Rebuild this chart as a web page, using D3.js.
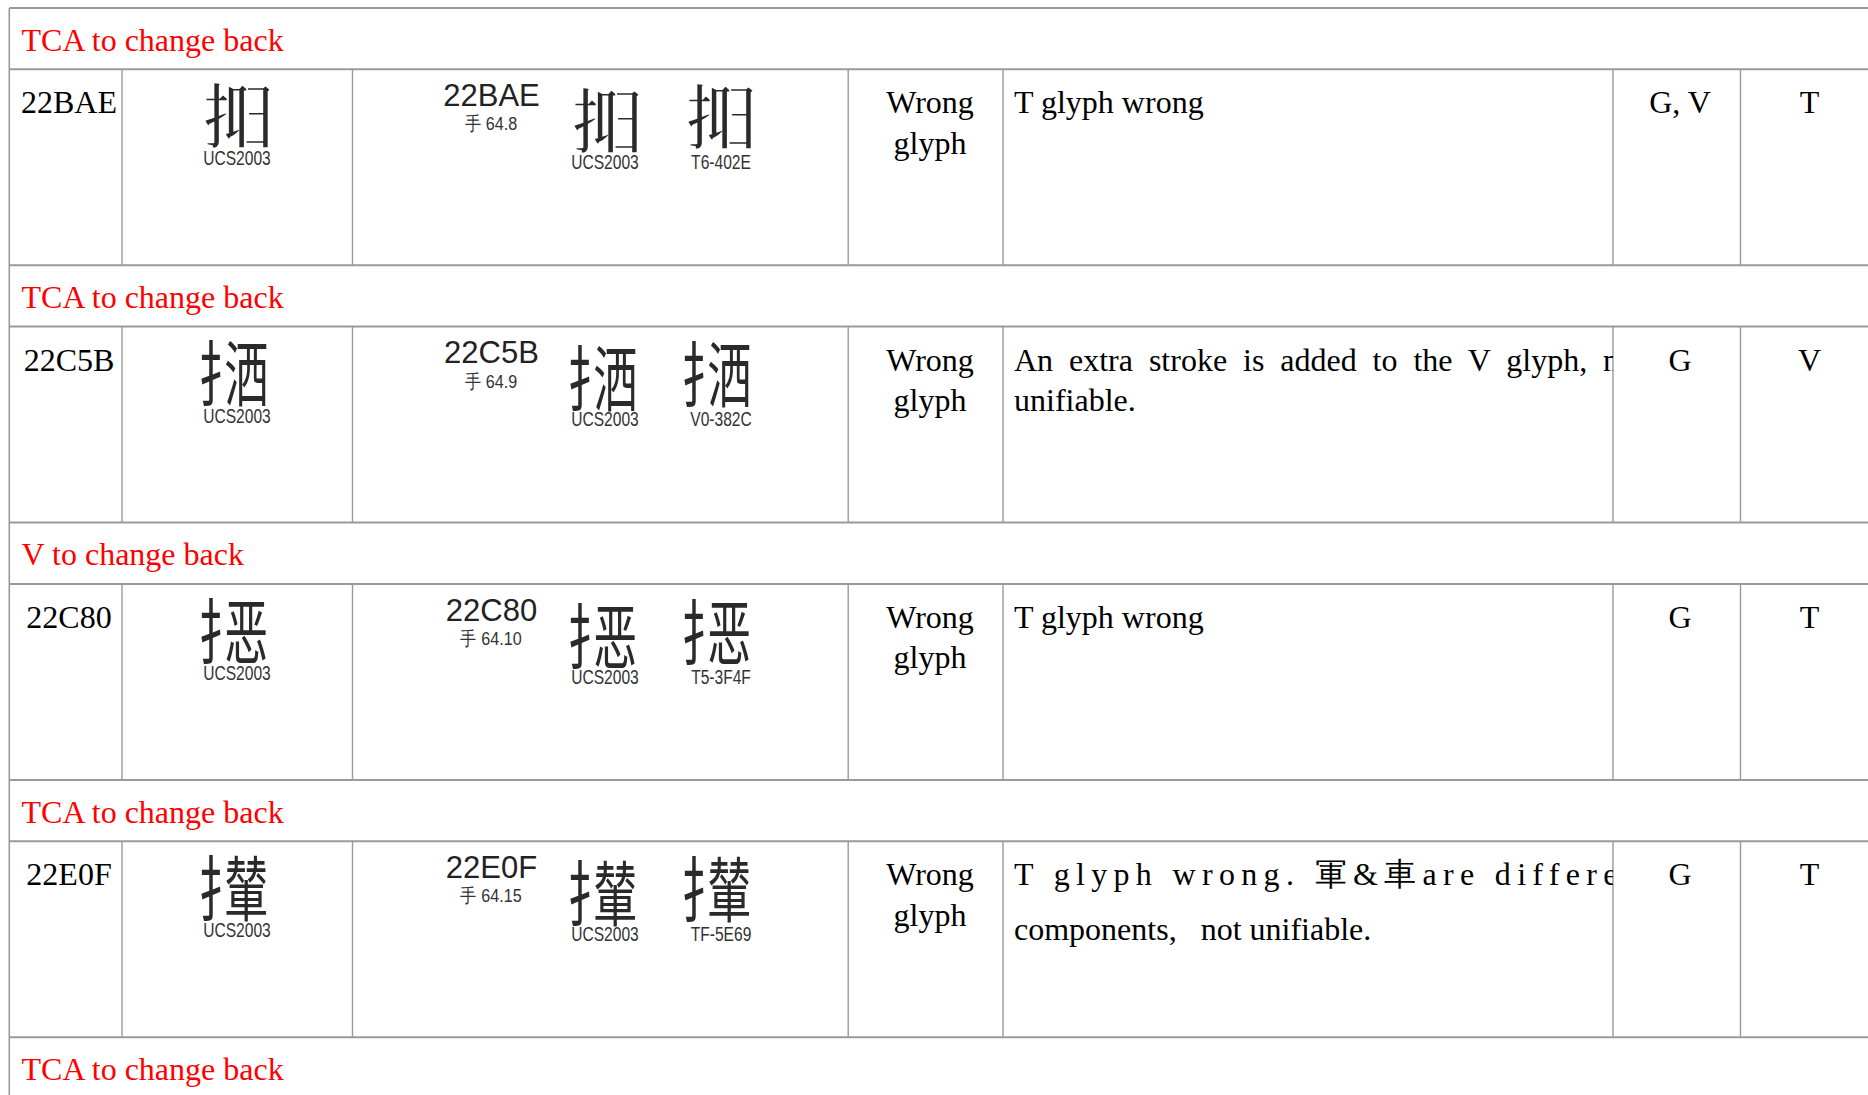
<!DOCTYPE html>
<html><head><meta charset="utf-8">
<script src="https://cdn.jsdelivr.net/npm/d3@7"></script>
<style>
html,body{margin:0;padding:0;background:#fff;overflow:hidden}
text{white-space:pre}
</style>
</head><body>
<svg id="chart"></svg>
<script>
// ---------- data ----------
const titles = ["TCA to change back", "TCA to change back", "V to change back", "TCA to change back", "TCA to change back"];
const codes = ["22BAE", "22C5B", "22C80", "22E0F"];
const codePoints = [0x22BAE, 0x22C5B, 0x22C80, 0x22E0F];
// ideographic components, used only when no installed font has the Ext-B character
const components = [["扌", "冋"], ["扌", "洒"], ["扌", "恶"], ["扌", "輦"]];
const radicalLabels = ["手 64.8", "手 64.9", "手 64.10", "手 64.15"];
const ucsLabel = "UCS2003";
const sourceLabels = ["T6-402E", "V0-382C", "T5-3F4F", "TF-5E69"];
const issueLines = [["Wrong", "glyph"], ["Wrong", "glyph"], ["Wrong", "glyph"], ["Wrong", "glyph"]];
const descriptions = [
  ["T glyph wrong"],
  ["An extra stroke is added to the V glyph, not", "unifiable."],
  ["T glyph wrong"],
  ["T glyph wrong. 軍&車are different", "components,   not unifiable."]
];
const fromSources = ["G, V", "G", "G", "G"];
const toSources = ["T", "V", "T", "T"];

// ---------- layout ----------
const W = 1868, H = 1095;
const blockH = 257.3, titleH = 61.3;
const serif = "'Liberation Serif','Times New Roman',serif";
const sans = "'Liberation Sans',Arial,sans-serif";
const cjk = "'Noto Sans CJK TC','Noto Sans CJK SC','Noto Sans CJK JP',sans-serif";
const glyphSize = 71;

const svg = d3.select("#chart").attr("width", W).attr("height", H)
  .style("display", "block").style("background", "#fff");

const yBlock = d3.scaleLinear().domain([0, 1]).range([8, 8 + blockH]);
const colX = d3.scaleOrdinal()
  .domain(["left", "ucs", "src", "issue", "desc", "from", "to", "end"])
  .range([9.3, 122, 352.5, 848.2, 1003, 1613, 1740.5, 1880]);
const dataTop = i => yBlock(i) + titleH;

// does an installed font draw this character? (compare with a surely-missing one)
function hasGlyph(ch) {
  const c = document.createElement("canvas"); c.width = 90; c.height = 90;
  const ctx = c.getContext("2d");
  const draw = s => {
    ctx.clearRect(0, 0, 90, 90);
    ctx.font = "64px " + cjk; ctx.textBaseline = "middle"; ctx.fillStyle = "#000";
    ctx.fillText(s, 8, 45);
    return ctx.getImageData(0, 0, 90, 90).data;
  };
  const a = draw(ch), b = draw(String.fromCodePoint(0x3134A));
  let diff = 0;
  for (let k = 3; k < a.length; k += 4) if (a[k] !== b[k]) diff++;
  return diff > 20;
}
const glyphOK = codePoints.map(cp => hasGlyph(String.fromCodePoint(cp)));

function drawGlyph(sel, i, cx, cy) {
  const fs = glyphSize;
  if (glyphOK[i]) {
    sel.append("text").attr("x", cx).attr("y", cy)
      .attr("text-anchor", "middle").attr("dominant-baseline", "central")
      .attr("font-family", cjk).attr("font-size", fs).attr("fill", "#2a2a2a")
      .text(String.fromCodePoint(codePoints[i]));
  } else {
    const sx = 0.62;
    sel.append("text")
      .attr("transform", `translate(${cx - 0.545 * fs},${cy}) scale(${sx},1)`)
      .attr("dominant-baseline", "central")
      .attr("font-family", cjk).attr("font-size", fs).attr("fill", "#2a2a2a")
      .attr("letter-spacing", -0.41 * fs)
      .text(components[i].join(""));
  }
}

// clip for description cells
const defs = svg.append("defs");
codes.forEach((c, i) => {
  defs.append("clipPath").attr("id", "clipd" + i)
    .append("rect")
    .attr("x", colX("desc")).attr("y", dataTop(i))
    .attr("width", colX("from") - colX("desc")).attr("height", yBlock(i + 1) - dataTop(i));
});

const grid = svg.append("g");
const hLines = [];
titles.forEach((t, i) => { hLines.push(yBlock(i)); if (i < codes.length) hLines.push(dataTop(i)); });
grid.selectAll("line.h").data(hLines).join("line")
  .attr("class", "h")
  .attr("x1", colX("left")).attr("x2", W)
  .attr("y1", d => d).attr("y2", d => d)
  .attr("stroke", "#9a9a9a").attr("stroke-width", 2);
grid.append("line").attr("x1", colX("left")).attr("x2", colX("left"))
  .attr("y1", yBlock(0)).attr("y2", H).attr("stroke", "#9a9a9a").attr("stroke-width", 1.6);
const vCols = ["ucs", "src", "issue", "desc", "from", "to"];
codes.forEach((c, i) => {
  grid.append("g").selectAll("line").data(vCols).join("line")
    .attr("x1", d => colX(d)).attr("x2", d => colX(d))
    .attr("y1", dataTop(i)).attr("y2", yBlock(i + 1))
    .attr("stroke", "#9a9a9a").attr("stroke-width", 1.4);
});

// titles
svg.append("g").selectAll("text").data(titles).join("text")
  .attr("x", 21.5).attr("y", (d, i) => yBlock(i) + 42.7)
  .attr("font-family", serif).attr("font-size", 32).attr("fill", "#ff0000")
  .text(d => d);

const rows = svg.append("g").selectAll("g.row").data(codes).join("g")
  .attr("class", "row")
  .attr("transform", (d, i) => `translate(0,${dataTop(i)})`);

// code column
rows.append("text").attr("x", 69).attr("y", 44).attr("text-anchor", "middle")
  .attr("font-family", serif).attr("font-size", 32).attr("fill", "#000")
  .text(d => d);

// UCS glyph column
rows.each(function (d, i) { drawGlyph(d3.select(this), i, 237, 42.5); });
rows.append("text").attr("transform", "translate(237,96) scale(0.8,1)")
  .attr("text-anchor", "middle").attr("font-family", sans).attr("font-size", 19.5).attr("fill", "#333")
  .text(ucsLabel);

// source evidence column
rows.append("text").attr("x", 491.5).attr("y", 36.7).attr("text-anchor", "middle")
  .attr("font-family", sans).attr("font-size", 31).attr("fill", "#222")
  .text(d => d);
rows.append("text").attr("transform", "translate(491,61) scale(0.85,1)").attr("text-anchor", "middle")
  .attr("font-family", sans).attr("font-size", 19).attr("fill", "#333")
  .text((d, i) => radicalLabels[i]);
rows.each(function (d, i) { drawGlyph(d3.select(this), i, 606, 47.5); });
rows.append("text").attr("transform", "translate(605,99.6) scale(0.8,1)")
  .attr("text-anchor", "middle").attr("font-family", sans).attr("font-size", 19.5).attr("fill", "#333")
  .text(ucsLabel);
rows.each(function (d, i) { drawGlyph(d3.select(this), i, 720, 43.5); });
rows.append("text").attr("transform", "translate(721,99.6) scale(0.8,1)")
  .attr("text-anchor", "middle").attr("font-family", sans).attr("font-size", 19.5).attr("fill", "#333")
  .text((d, i) => sourceLabels[i]);

// issue column
rows.each(function (d, i) {
  d3.select(this).append("g").selectAll("text").data(issueLines[i]).join("text")
    .attr("x", 930).attr("y", (t, k) => 44 + k * 40.5).attr("text-anchor", "middle")
    .attr("font-family", serif).attr("font-size", 32).attr("fill", "#000")
    .text(t => t);
});

// description column (wrapped lines justified, clipped at the cell edge)
const hasCJK = s => /[\u3400-\u9fff]/.test(s);
rows.each(function (d, i) {
  const g = svg.append("g").attr("clip-path", `url(#clipd${i})`);
  const lines = descriptions[i];
  let y = dataTop(i) + 44;
  lines.forEach((line, k) => {
    const t = g.append("text").attr("x", 1014).attr("y", y)
      .attr("font-family", serif).attr("font-size", 32).attr("fill", "#000")
      .text(line);
    if (k < lines.length - 1) {
      const nat = t.node().getComputedTextLength();
      if (hasCJK(line)) {
        const n = Array.from(line).length;
        t.attr("letter-spacing", (641 - nat) / (n - 1));
      } else {
        const ns = (line.match(/ /g) || []).length;
        t.attr("word-spacing", (630 - nat) / ns);
      }
    }
    y += hasCJK(line) ? 54.8 : 40.5;
  });
});

// from / to columns
rows.append("text").attr("x", 1680).attr("y", 44).attr("text-anchor", "middle")
  .attr("font-family", serif).attr("font-size", 32).attr("fill", "#000")
  .text((d, i) => fromSources[i]);
rows.append("text").attr("x", 1809.5).attr("y", 44).attr("text-anchor", "middle")
  .attr("font-family", serif).attr("font-size", 32).attr("fill", "#000")
  .text((d, i) => toSources[i]);
</script>
</body></html>
